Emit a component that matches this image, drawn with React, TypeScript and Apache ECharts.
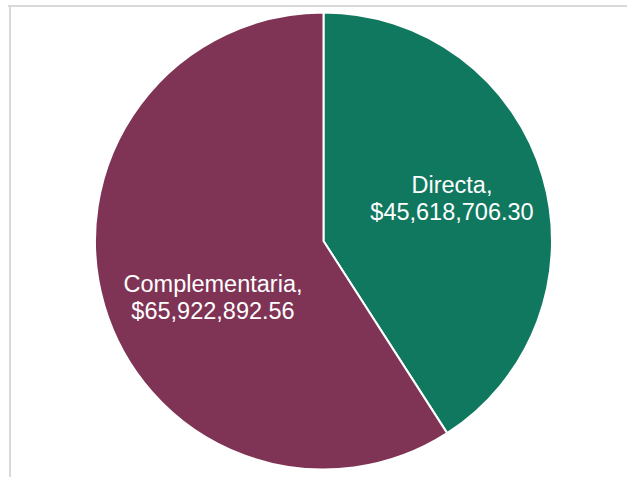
import React, { useEffect, useRef } from "react";
import * as echarts from "echarts";

const categories = ["Directa", "Complementaria"];
const values = [45618706.3, 65922892.56];
const colors = ["#10785F", "#7F3455"];
const labelOffsets = [
  [16, -9],
  [2, 23],
];

function fmt(v: number): string {
  return (
    "$" +
    v.toLocaleString("en-US", { minimumFractionDigits: 2, maximumFractionDigits: 2 })
  );
}

export default function App() {
  const ref = useRef<HTMLDivElement>(null);
  useEffect(() => {
    if (!ref.current) return;
    const chart = echarts.init(ref.current, undefined, { renderer: "svg" });
    chart.setOption({
      animation: false,
      backgroundColor: "#ffffff",
      graphic: [
        {
          type: "line",
          shape: { x1: 8, y1: 6, x2: 627, y2: 6 },
          style: { stroke: "#d9d9d9", lineWidth: 2 },
        },
        {
          type: "line",
          shape: { x1: 10, y1: 6, x2: 10, y2: 477 },
          style: { stroke: "#d9d9d9", lineWidth: 2 },
        },
      ],
      series: [
        {
          type: "pie",
          center: [323.5, 241],
          radius: 228.5,
          startAngle: 90,
          clockwise: true,
          avoidLabelOverlap: false,
          itemStyle: { borderColor: "#ffffff", borderWidth: 2 },
          emphasis: { disabled: true },
          label: {
            show: true,
            position: "inside",
            color: "#ffffff",
            fontFamily: "Liberation Sans, Arial, sans-serif",
            fontSize: 23.5,
            lineHeight: 27,
            align: "center",
            formatter: (p: any) => `${p.name},\n${fmt(p.value)}`,
          },
          labelLine: { show: false },
          data: categories.map((c, i) => ({
            name: c,
            value: values[i],
            itemStyle: { color: colors[i] },
            label: { offset: labelOffsets[i] },
          })),
        },
      ],
    });
    return () => chart.dispose();
  }, []);
  return (
    <div
      ref={ref}
      style={{ position: "fixed", left: 0, top: 0, width: 627, height: 478 }}
    />
  );
}
